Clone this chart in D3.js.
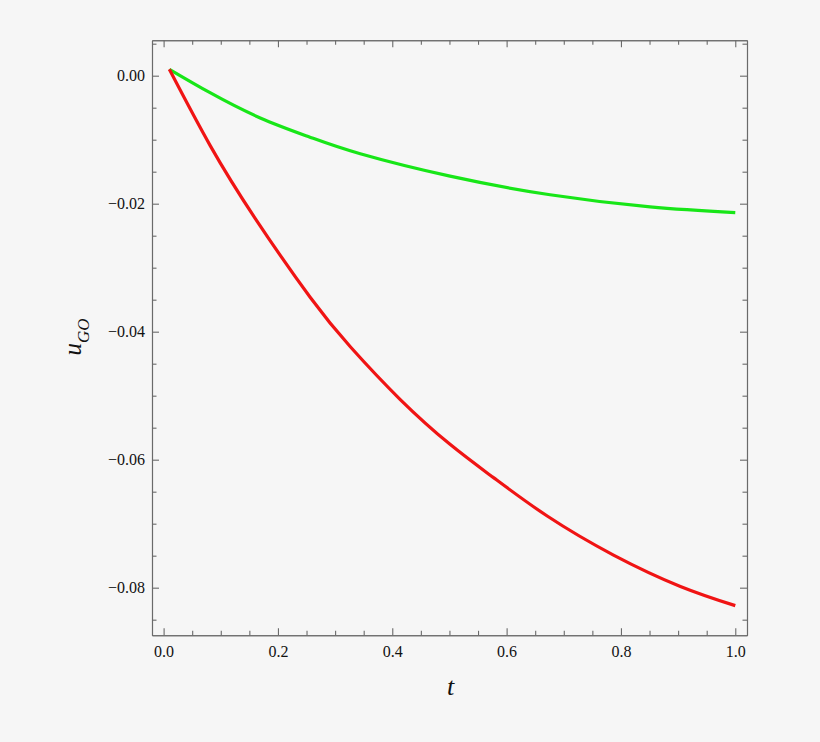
<!DOCTYPE html>
<html>
<head>
<meta charset="utf-8">
<script src="https://cdn.jsdelivr.net/npm/d3@7"></script>
<style>
  html, body { margin: 0; padding: 0; background: #f6f6f6; }
  svg { display: block; }
  text { font-family: "Liberation Serif", serif; fill: #111; }
</style>
</head>
<body>
<svg id="chart" width="820" height="742"></svg>
<script>
// ---- data ----
const greenT = [0.01, 0.082, 0.169, 0.256, 0.344, 0.501, 0.676, 0.851, 1.0];
const greenU = [0.001, -0.0027, -0.0066, -0.0096, -0.0122, -0.0157, -0.0186, -0.0205, -0.0214];
const redT = [0.01, 0.082, 0.161, 0.257, 0.327, 0.414, 0.501, 0.577, 0.671, 0.787, 0.904, 1.0];
const redU = [0.001, -0.0110, -0.0224, -0.0347, -0.0424, -0.0506, -0.0576, -0.0628, -0.0688, -0.0749, -0.0798, -0.0828];
const xMajor = [0, 0.2, 0.4, 0.6, 0.8, 1.0];
const xMinor = [0.05, 0.1, 0.15, 0.25, 0.3, 0.35, 0.45, 0.5, 0.55, 0.65, 0.7, 0.75, 0.85, 0.9, 0.95];
const yMajor = [0, -0.02, -0.04, -0.06, -0.08];
const yMinor = [0.005, -0.005, -0.01, -0.015, -0.025, -0.03, -0.035, -0.045, -0.05, -0.055, -0.065, -0.07, -0.075, -0.085];

const svg = d3.select("#chart");
const L = 152, R = 747, T = 40.3, B = 635.3;
const x = d3.scaleLinear().domain([-0.0203, 1.0205]).range([L, R]);
const y = d3.scaleLinear().domain([0.00553, -0.08744]).range([T, B]);

const frameColor = "#6a6a6a";
function styleAxis(g) {
  g.attr("font-family", null);
  g.selectAll("path.domain").attr("stroke", frameColor).attr("stroke-width", 1.1);
  g.selectAll(".tick line").attr("stroke", frameColor).attr("stroke-width", 1.1);
  g.selectAll(".tick text").style("font-family", '"Liberation Serif", serif').style("font-size", "16px").attr("fill", "#111");
}

const fx = d3.format(".1f"), fy = d3.format(".2f");
// bottom
svg.append("g").attr("transform", `translate(0,${B})`)
  .call(d3.axisBottom(x).tickValues(xMajor).tickFormat(fx).tickSizeInner(-7).tickSizeOuter(0).tickPadding(10)).call(styleAxis);
svg.append("g").attr("transform", `translate(0,${B})`)
  .call(d3.axisBottom(x).tickValues(xMinor).tickFormat("").tickSizeInner(-4.5).tickSizeOuter(0)).call(styleAxis);
// top
svg.append("g").attr("transform", `translate(0,${T})`)
  .call(d3.axisTop(x).tickValues(xMajor).tickFormat("").tickSizeInner(-7).tickSizeOuter(0)).call(styleAxis);
svg.append("g").attr("transform", `translate(0,${T})`)
  .call(d3.axisTop(x).tickValues(xMinor).tickFormat("").tickSizeInner(-4.5).tickSizeOuter(0)).call(styleAxis);
// left
svg.append("g").attr("transform", `translate(${L},0)`)
  .call(d3.axisLeft(y).tickValues(yMajor).tickFormat(fy).tickSizeInner(-7).tickSizeOuter(0).tickPadding(7)).call(styleAxis);
svg.append("g").attr("transform", `translate(${L},0)`)
  .call(d3.axisLeft(y).tickValues(yMinor).tickFormat("").tickSizeInner(-4.5).tickSizeOuter(0)).call(styleAxis);
// right
svg.append("g").attr("transform", `translate(${R},0)`)
  .call(d3.axisRight(y).tickValues(yMajor).tickFormat("").tickSizeInner(-7).tickSizeOuter(0)).call(styleAxis);
svg.append("g").attr("transform", `translate(${R},0)`)
  .call(d3.axisRight(y).tickValues(yMinor).tickFormat("").tickSizeInner(-4.5).tickSizeOuter(0)).call(styleAxis);

// curves
const lineGen = d3.line().x(d => x(d[0])).y(d => y(d[1])).curve(d3.curveNatural);
svg.append("path").datum(greenT.map((t, i) => [t, greenU[i]]))
  .attr("d", lineGen).attr("fill", "none").attr("stroke", "#18e618").attr("stroke-width", 3.2);
svg.append("path").datum(redT.map((t, i) => [t, redU[i]]))
  .attr("d", lineGen).attr("fill", "none").attr("stroke", "#f01414").attr("stroke-width", 3.2);

// axis labels
svg.append("text").attr("x", (L + R) / 2 + 1).attr("y", 695)
  .attr("text-anchor", "middle").style("font-style", "italic").style("font-size", "26px").text("t");
const yl = svg.append("text").attr("transform", `translate(81,337) rotate(-90)`)
  .attr("text-anchor", "middle").style("font-style", "italic").style("font-size", "25px");
yl.append("tspan").text("u");
yl.append("tspan").attr("dy", 8).style("font-size", "17px").text("GO");
</script>
</body>
</html>
